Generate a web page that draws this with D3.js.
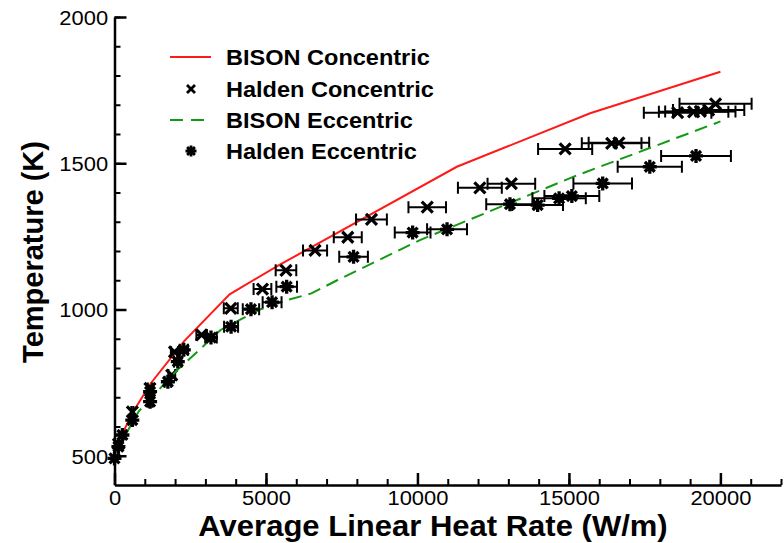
<!DOCTYPE html>
<html>
<head>
<meta charset="utf-8">
<script src="https://cdn.jsdelivr.net/npm/d3@7"></script>
<style>
  body { margin: 0; background: #fff; }
  svg { display: block; }
  text { font-family: "Liberation Sans", Arial, Helvetica, sans-serif; fill: #000; }
</style>
</head>
<body>
<svg id="chart" width="784" height="543"></svg>
<script>
// ---- BISON simulations (W/m, K) ----
const bisonConcHeat = [0, 600, 1200, 2300, 3800, 5400, 11300, 15700, 20000];
const bisonConcTemp = [520, 648, 748, 892, 1052, 1150, 1488, 1671, 1813];

const bisonEccHeat = [0, 800, 2070, 2500, 3500, 4800, 5800, 6500, 7350, 10100, 15200, 20000];
const bisonEccTemp = [505, 652, 793, 833, 930, 1000, 1035, 1055, 1100, 1238, 1456, 1643];

// ---- Halden measurements with heat-rate uncertainty (W/m, K, ±W/m) ----
const haldenConcHeat = [130, 590, 1170, 1890, 1980, 2875, 3838, 4884, 5660, 6620, 7700, 8482,
  10323, 12060, 13100, 14875, 16410, 16650, 18587, 19116, 19337, 19611, 19840];
const haldenConcTemp = [540, 650, 730, 776, 855, 913, 1004, 1070, 1134, 1202, 1247, 1308,
  1350, 1416, 1430, 1549, 1568, 1570, 1673, 1676, 1677, 1682, 1703];
const haldenConcErr = [8, 35, 70, 113, 119, 172, 230, 293, 340, 397, 462, 509,
  620, 724, 786, 893, 985, 999, 1115, 1147, 1160, 1177, 1190];

const haldenEccHeat = [0, 129, 261, 587, 1175, 1175, 1762, 2089, 2287, 3185, 3848, 4504, 5202, 5683,
  7891, 9841, 10977, 13053, 13967, 14676, 15096, 16115, 17669, 19195];
const haldenEccTemp = [491, 531, 571, 622, 685, 719, 753, 822, 862, 904, 941, 1001, 1025, 1078,
  1180, 1263, 1274, 1360, 1357, 1380, 1388, 1431, 1488, 1525];
const haldenEccErr = [0, 8, 16, 35, 70, 70, 106, 125, 137, 191, 231, 270, 312, 341,
  473, 590, 659, 783, 838, 881, 906, 967, 1060, 1152];

// ---- axes ----
const xMajorTicks = [0, 5000, 10000, 15000, 20000];
const yMajorTicks = [500, 1000, 1500, 2000];
const xTitle = "Average Linear Heat Rate (W/m)";
const yTitle = "Temperature (K)";
const legendLabels = ["BISON Concentric", "Halden Concentric", "BISON Eccentric", "Halden Eccentric"];

const svg = d3.select("#chart");
svg.append("rect").attr("width", 784).attr("height", 543).attr("fill", "#fff");

const x = d3.scaleLinear().domain([0, 22000]).range([114.5, 781]);
const y = d3.scaleLinear().domain([400, 2000]).range([485, 17]);
const STRETCH = "scale(1.07,1)";

// minor ticks
svg.append("g").attr("transform", `translate(0,${y(400)})`)
  .call(d3.axisBottom(x).tickValues(d3.range(1000, 22001, 1000)).tickSize(-6).tickFormat(""))
  .call(g => g.select(".domain").remove())
  .call(g => g.selectAll("line").attr("stroke-width", 2));
svg.append("g").attr("transform", `translate(${x(0)},0)`)
  .call(d3.axisLeft(y).tickValues(d3.range(500, 2001, 100)).tickSize(-6).tickFormat(""))
  .call(g => g.select(".domain").remove())
  .call(g => g.selectAll("line").attr("stroke-width", 2));

// major ticks with labels
const xAxis = svg.append("g").attr("transform", `translate(0,${y(400)})`)
  .call(d3.axisBottom(x).tickValues(xMajorTicks).tickSizeInner(-12).tickSizeOuter(0)
    .tickPadding(5).tickFormat(d3.format("d")));
const yAxis = svg.append("g").attr("transform", `translate(${x(0)},0)`)
  .call(d3.axisLeft(y).tickValues(yMajorTicks).tickSizeInner(-12).tickSizeOuter(0)
    .tickPadding(6).tickFormat(d3.format("d")));
[xAxis, yAxis].forEach(g => {
  g.select(".domain").attr("stroke-width", 2.5);
  g.selectAll(".tick line").attr("stroke-width", 2.5);
  g.selectAll("text").attr("font-size", 20.5).attr("font-family", null).attr("transform", STRETCH);
});
yAxis.selectAll("text").attr("dy", "0.36em");

// axis titles
svg.append("text").attr("transform", `translate(433,536) ${STRETCH}`)
  .attr("text-anchor", "middle").attr("font-size", 29).attr("font-weight", "bold").text(xTitle);
svg.append("text").attr("transform", `translate(43,252) rotate(-90)`)
  .attr("text-anchor", "middle").attr("font-size", 29).attr("font-weight", "bold").text(yTitle);

// ---- marks ----
const crossPath = r => `M${-r},${-r}L${r},${r}M${-r},${r}L${r},${-r}`;
const starPath = r => {
  const d = r * Math.SQRT1_2;
  return `M${-r},0L${r},0M0,${-r}L0,${r}M${-d},${-d}L${d},${d}M${-d},${d}L${d},${-d}`;
};

const plot = svg.append("g");
const lineGen = d3.line().x(d => x(d[0])).y(d => y(d[1]));

function drawLine(hs, ts, color, dash) {
  plot.append("path").datum(d3.zip(hs, ts)).attr("d", lineGen)
    .attr("fill", "none").attr("stroke", color).attr("stroke-width", 2)
    .attr("stroke-dasharray", dash);
}

function drawPoints(hs, ts, es, shape, r, sw) {
  const pts = d3.zip(hs, ts, es);
  const g = plot.append("g").attr("stroke", "#000").attr("fill", "none");
  g.selectAll(".bar").data(pts.filter(p => p[2] > 0)).join("path")
    .attr("stroke-width", 2)
    .attr("d", p => {
      const x0 = x(p[0] - p[2]), x1 = x(p[0] + p[2]), yy = y(p[1]);
      return `M${x0},${yy}H${x1}M${x0},${yy - 6}V${yy + 6}M${x1},${yy - 6}V${yy + 6}`;
    });
  g.selectAll(".mk").data(pts).join("path")
    .attr("transform", p => `translate(${x(p[0])},${y(p[1])})`)
    .attr("d", shape(r)).attr("stroke-width", sw);
}

drawLine(bisonConcHeat, bisonConcTemp, "#ff1a1a", null);
drawPoints(haldenConcHeat, haldenConcTemp, haldenConcErr, crossPath, 5.5, 3.2);
drawLine(bisonEccHeat, bisonEccTemp, "#139a13", "13,7");
drawPoints(haldenEccHeat, haldenEccTemp, haldenEccErr, starPath, 7, 3.3);

// ---- legend ----
const legend = svg.append("g");
const rowY = [57, 89, 120, 151];
legend.append("line").attr("x1", 170).attr("x2", 211).attr("y1", rowY[0]).attr("y2", rowY[0])
  .attr("stroke", "#ff1a1a").attr("stroke-width", 2);
legend.append("path").attr("transform", `translate(191,${rowY[1]})`).attr("d", crossPath(4))
  .attr("stroke", "#000").attr("stroke-width", 2.8);
legend.append("line").attr("x1", 170).attr("x2", 211).attr("y1", rowY[2]).attr("y2", rowY[2])
  .attr("stroke", "#139a13").attr("stroke-width", 2).attr("stroke-dasharray", "13,8");
legend.append("path").attr("transform", `translate(191,${rowY[3]})`).attr("d", starPath(5.5))
  .attr("stroke", "#000").attr("stroke-width", 2.8);
legendLabels.forEach((t, i) => {
  legend.append("text").attr("transform", `translate(226,${rowY[i] + 8}) ${STRETCH}`)
    .attr("font-size", 22).attr("font-weight", "bold").text(t);
});
</script>
</body>
</html>
